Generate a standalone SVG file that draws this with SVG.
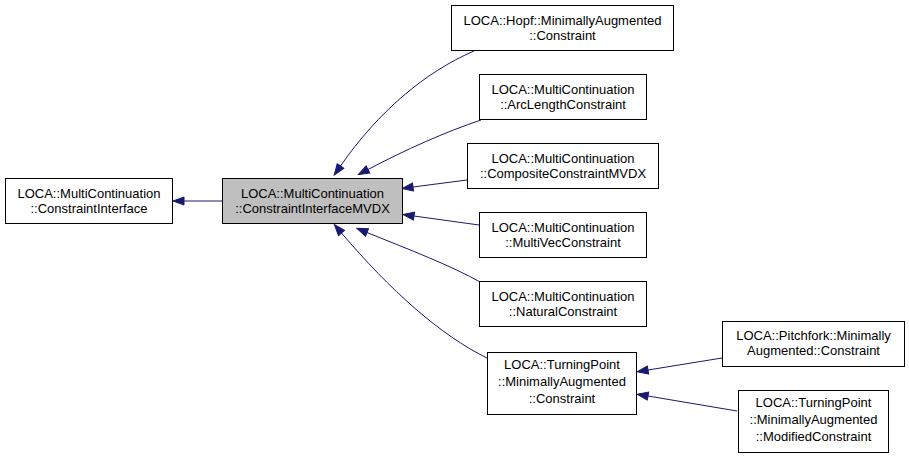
<svg xmlns="http://www.w3.org/2000/svg" width="909" height="460" viewBox="0 0 909 460">
<style>
.box{fill:#ffffff;stroke:#000000;stroke-width:1}
.cur{fill:#bfbfbf;stroke:#000000;stroke-width:1}
text{font-family:"Liberation Sans",Arial,Helvetica,sans-serif;font-size:13px;fill:#000000;text-anchor:middle}
.edge{fill:none;stroke:#191970;stroke-width:1;marker-end:url(#ah)}
</style>
<defs>
<marker id="ah" viewBox="-1 -1 13 10" refX="0" refY="4" markerWidth="13" markerHeight="10" markerUnits="userSpaceOnUse" orient="auto">
<path d="M0,0 L11,4 L0,8 Z" fill="#191970" stroke="#191970" stroke-width="1"/>
</marker>
</defs>
<rect width="909" height="460" fill="#ffffff"/>
<g id="edges">
<path class="edge" d="M222,201 L184,201"/>
<path class="edge" d="M474,51 C425,72 378,112 340.5,166"/>
<path class="edge" d="M481,120 C445,132 405,150 368,169.5"/>
<path class="edge" d="M467,180 L413,187"/>
<path class="edge" d="M479,225 L414,216"/>
<path class="edge" d="M482,283 C450,265 410,250 367,232.5"/>
<path class="edge" d="M487,358 C440,335 390,290 341.5,233"/>
<path class="edge" d="M722,358 L648,370"/>
<path class="edge" d="M737,411 L648,396"/>
</g>
<g id="n_ci">
<rect class="box" x="5.5" y="178.5" width="167" height="45"/>
<text x="89" y="197.5">LOCA::MultiContinuation</text>
<text x="89" y="212.5">::ConstraintInterface</text>
</g>
<g id="n_mvdx">
<rect class="cur" x="222.5" y="178.5" width="180" height="45"/>
<text x="312.5" y="197.5">LOCA::MultiContinuation</text>
<text x="312.5" y="212.5">::ConstraintInterfaceMVDX</text>
</g>
<g id="n_hopf">
<rect class="box" x="451.5" y="5.5" width="222" height="45"/>
<text x="562.5" y="24.5">LOCA::Hopf::MinimallyAugmented</text>
<text x="562.5" y="39.5">::Constraint</text>
</g>
<g id="n_arc">
<rect class="box" x="479.5" y="74.5" width="167" height="45"/>
<text x="563" y="93.5">LOCA::MultiContinuation</text>
<text x="563" y="108.5">::ArcLengthConstraint</text>
</g>
<g id="n_comp">
<rect class="box" x="467.5" y="143.5" width="191" height="45"/>
<text x="563" y="162.5">LOCA::MultiContinuation</text>
<text x="563" y="177.5">::CompositeConstraintMVDX</text>
</g>
<g id="n_multivec">
<rect class="box" x="479.5" y="212.5" width="167" height="45"/>
<text x="563" y="231.5">LOCA::MultiContinuation</text>
<text x="563" y="246.5">::MultiVecConstraint</text>
</g>
<g id="n_natural">
<rect class="box" x="479.5" y="281.5" width="167" height="45"/>
<text x="563" y="300.5">LOCA::MultiContinuation</text>
<text x="563" y="315.5">::NaturalConstraint</text>
</g>
<g id="n_turning">
<rect class="box" x="487.5" y="352.5" width="149" height="62"/>
<text x="562" y="369">LOCA::TurningPoint</text>
<text x="562" y="386">::MinimallyAugmented</text>
<text x="562" y="403">::Constraint</text>
</g>
<g id="n_pitchfork">
<rect class="box" x="722.5" y="321.5" width="182" height="45"/>
<text x="813.5" y="340">LOCA::Pitchfork::Minimally</text>
<text x="813.5" y="355">Augmented::Constraint</text>
</g>
<g id="n_modified">
<rect class="box" x="738.5" y="390.5" width="150" height="62"/>
<text x="813.5" y="407">LOCA::TurningPoint</text>
<text x="813.5" y="424">::MinimallyAugmented</text>
<text x="813.5" y="441">::ModifiedConstraint</text>
</g>
</svg>
